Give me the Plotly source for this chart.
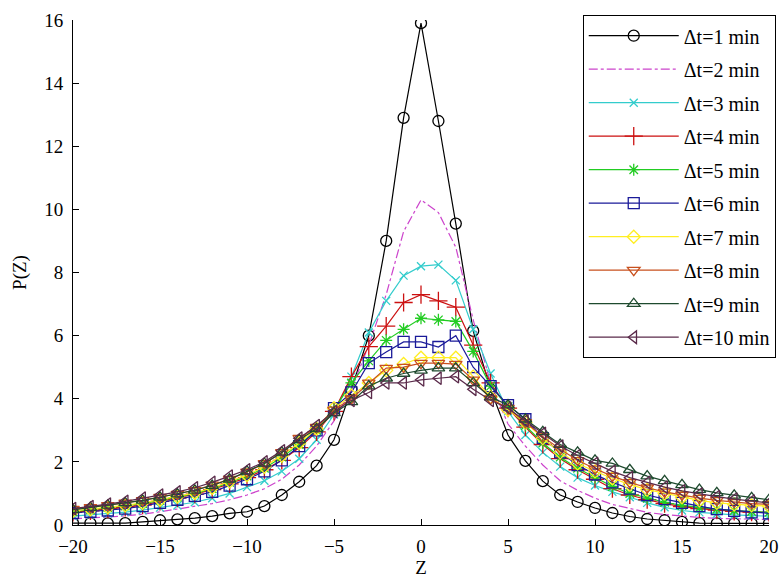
import plotly.graph_objects as go

z_values = list(range(-20, 21))

p_dt1 = [0.06, 0.06, 0.05, 0.06, 0.10, 0.15, 0.18, 0.22, 0.28, 0.37,
         0.42, 0.60, 0.95, 1.37, 1.88, 2.70, 4.30, 6.00, 9.00, 12.90,
         15.90,
         12.80, 9.55, 6.15, 4.30, 2.85, 2.03, 1.39, 0.95, 0.73, 0.54,
         0.38, 0.27, 0.19, 0.15, 0.10, 0.06, 0.05, 0.05, 0.05, 0.05]
p_dt2 = [0.20, 0.22, 0.25, 0.29, 0.34, 0.42, 0.50, 0.58, 0.68, 0.80,
         0.95, 1.15, 1.45, 1.90, 2.50, 3.30, 4.30, 5.70, 7.30, 9.30,
         10.30,
         9.90, 8.80, 6.50, 4.50, 3.20, 2.50, 1.90, 1.40, 1.10, 0.85,
         0.65, 0.52, 0.40, 0.33, 0.28, 0.24, 0.21, 0.19, 0.18, 0.17]
p_dt3 = [0.28, 0.32, 0.36, 0.41, 0.47, 0.55, 0.62, 0.72, 0.85, 1.00,
         1.20, 1.40, 1.70, 2.10, 2.70, 3.50, 4.70, 6.10, 7.10, 7.90,
         8.20,
         8.25, 7.75, 6.20, 4.80, 3.60, 2.85, 2.30, 1.85, 1.50, 1.25,
         1.05, 0.88, 0.70, 0.56, 0.46, 0.40, 0.35, 0.32, 0.30, 0.28]
p_dt4 = [0.40, 0.45, 0.50, 0.56, 0.63, 0.75, 0.85, 0.98, 1.12, 1.30,
         1.50, 1.75, 2.05, 2.45, 2.95, 3.60, 4.70, 5.65, 6.30, 7.05,
         7.30,
         7.10, 6.90, 5.70, 4.50, 3.70, 3.10, 2.55, 2.10, 1.75, 1.45,
         1.15, 0.95, 0.80, 0.68, 0.58, 0.52, 0.47, 0.43, 0.41, 0.40]
p_dt5 = [0.42, 0.48, 0.55, 0.60, 0.68, 0.78, 0.88, 1.00, 1.15, 1.35,
         1.55, 1.80, 2.15, 2.55, 3.00, 3.65, 4.50, 5.20, 5.85, 6.20,
         6.55,
         6.50, 6.45, 5.50, 4.40, 3.75, 3.15, 2.60, 2.15, 1.80, 1.50,
         1.22, 1.00, 0.85, 0.72, 0.62, 0.55, 0.50, 0.46, 0.43, 0.40]
p_dt6 = [0.38, 0.42, 0.46, 0.52, 0.60, 0.70, 0.80, 0.92, 1.05, 1.25,
         1.45, 1.70, 2.05, 2.50, 3.00, 3.70, 4.20, 5.13, 5.48, 5.80,
         5.80,
         5.64, 6.00, 5.00, 4.40, 3.80, 3.35, 2.75, 2.30, 1.90, 1.60,
         1.35, 1.15, 0.95, 0.82, 0.70, 0.60, 0.50, 0.45, 0.40, 0.37]
p_dt7 = [0.45, 0.50, 0.56, 0.62, 0.70, 0.80, 0.90, 1.02, 1.18, 1.38,
         1.58, 1.85, 2.20, 2.60, 3.05, 3.70, 4.10, 4.50, 4.90, 5.10,
         5.30,
         5.30, 5.30, 4.70, 4.05, 3.65, 3.25, 2.75, 2.30, 1.95, 1.70,
         1.48, 1.28, 1.12, 1.00, 0.88, 0.78, 0.70, 0.65, 0.62, 0.60]
p_dt8 = [0.50, 0.56, 0.62, 0.70, 0.78, 0.88, 0.98, 1.10, 1.27, 1.45,
         1.68, 1.95, 2.30, 2.75, 3.10, 3.65, 4.00, 4.50, 4.97, 5.00,
         5.13,
         5.13, 5.10, 4.60, 4.00, 3.70, 3.25, 2.80, 2.40, 2.05, 1.78,
         1.55, 1.35, 1.18, 1.05, 0.95, 0.85, 0.78, 0.72, 0.68, 0.65]
p_dt9 = [0.48, 0.55, 0.62, 0.70, 0.78, 0.88, 0.98, 1.10, 1.25, 1.45,
         1.70, 1.95, 2.30, 2.70, 3.05, 3.55, 3.90, 4.40, 4.65, 4.80,
         4.90,
         4.97, 4.97, 4.50, 4.05, 3.80, 3.35, 2.95, 2.55, 2.30, 2.05,
         1.95, 1.75, 1.55, 1.40, 1.27, 1.12, 1.02, 0.94, 0.86, 0.80]
p_dt10 = [0.52, 0.58, 0.66, 0.75, 0.85, 0.95, 1.05, 1.18, 1.35, 1.55,
          1.75, 2.00, 2.35, 2.75, 3.15, 3.60, 3.95, 4.20, 4.50, 4.50,
          4.60,
          4.65, 4.70, 4.30, 3.95, 3.70, 3.30, 2.90, 2.50, 2.20, 1.95,
          1.70, 1.50, 1.35, 1.20, 1.08, 0.98, 0.90, 0.82, 0.76, 0.70]

series_names = ["Δt=1 min", "Δt=2 min", "Δt=3 min", "Δt=4 min", "Δt=5 min",
                "Δt=6 min", "Δt=7 min", "Δt=8 min", "Δt=9 min", "Δt=10 min"]
series_values = [p_dt1, p_dt2, p_dt3, p_dt4, p_dt5, p_dt6, p_dt7, p_dt8, p_dt9, p_dt10]

colors = ["#000000", "#cc44cc", "#33cccc", "#cc1111", "#22cc22",
          "#1a1a99", "#ffee22", "#c8501e", "#1e4a2e", "#5a2a4a"]
symbols = ["circle-open", None, "x-thin-open", "cross-thin-open", "asterisk-open",
           "square-open", "diamond-open", "triangle-down-open", "triangle-up-open",
           "triangle-left-open"]
sizes = [11, 0, 8, 13, 10, 11, 10, 11, 11, 11]

fig = go.Figure()
for i, (name, vals) in enumerate(zip(series_names, series_values)):
    if symbols[i] is None:
        fig.add_trace(go.Scatter(
            x=z_values, y=vals, name=name, mode="lines", legendgroup=f"g{i}",
            line=dict(color=colors[i], width=1.2, dash="dashdot"),
        ))
    else:
        fig.add_trace(go.Scatter(
            x=z_values, y=vals, name=name, mode="lines+markers", legendgroup=f"g{i}",
            line=dict(color=colors[i], width=1.2),
            marker=dict(symbol=symbols[i], size=sizes[i],
                        line=dict(color=colors[i], width=1.3), color=colors[i]),
        ))

font_family = "Liberation Serif"
fs = 19
fig.update_layout(
    width=782, height=585,
    paper_bgcolor="white", plot_bgcolor="white",
    margin=dict(l=73, r=13, t=20, b=60, autoexpand=False),
    font=dict(family=font_family, size=fs, color="black"),
    showlegend=True,
    legend=dict(
        xref="container", yref="container",
        x=0.992, y=0.974, xanchor="right", yanchor="top",
        bgcolor="white", bordercolor="black", borderwidth=1,
        font=dict(family=font_family, size=20, color="black"),
        tracegroupgap=4.5, itemwidth=90, maxheight=560,
    ),
    xaxis=dict(
        range=[-20, 20], tickmode="array", tickvals=[-20, -15, -10, -5, 0, 5, 10, 15, 20],
        ticks="inside", ticklen=6, tickcolor="black", showline=True, linecolor="black",
        linewidth=1, showgrid=False, zeroline=False, mirror=False,
        ticklabelstandoff=4, automargin=False,
        title=dict(text="Z", standoff=2, font=dict(family=font_family, size=fs)),
        tickfont=dict(family=font_family, size=fs),
    ),
    yaxis=dict(
        range=[0, 16], tickmode="array", tickvals=[0, 2, 4, 6, 8, 10, 12, 14, 16],
        ticks="inside", ticklen=6, tickcolor="black", showline=True, linecolor="black",
        linewidth=1, showgrid=False, zeroline=False, mirror=False,
        ticklabelstandoff=5, automargin=False,
        title=dict(text="P(Z)", standoff=12, font=dict(family=font_family, size=fs)),
        tickfont=dict(family=font_family, size=fs),
    ),
)

fig.write_html("out.html", config={"displayModeBar": False},
               post_script="document.body.style.margin='0';document.body.style.padding='0';")
